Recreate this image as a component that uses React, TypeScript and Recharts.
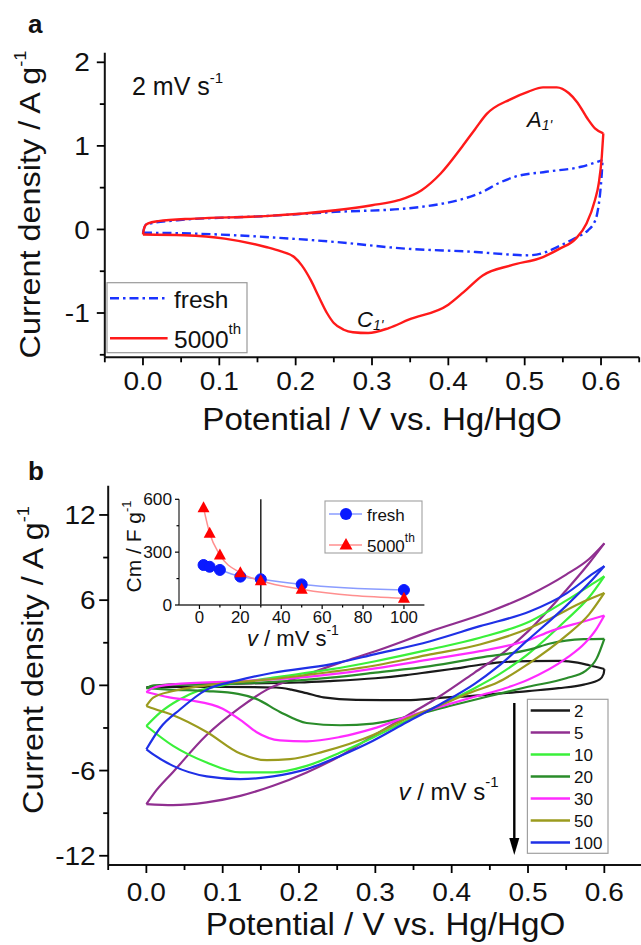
import React from 'react';
import { LineChart, Line, XAxis, YAxis, ReferenceLine } from 'recharts';

const FONT = '"Liberation Sans", Arial, Helvetica, sans-serif';

// ---------- Panel a : 2 mV/s, fresh vs 5000th (potential V, current A/g) ----------
const freshAnodic: [number, number][] = [
  [0.0, -0.04], [0.004, 0.06], [0.045, 0.11], [0.16, 0.16], [0.252, 0.21], [0.344, 0.25], [0.38, 0.29],
  [0.413, 0.35], [0.445, 0.45], [0.465, 0.55], [0.487, 0.63], [0.528, 0.69], [0.574, 0.75], [0.602, 0.83],
];
const freshCathodic: [number, number][] = [
  [0.0, -0.04], [0.004, -0.04], [0.068, -0.05], [0.16, -0.09], [0.252, -0.15], [0.344, -0.23], [0.436, -0.27],
  [0.48, -0.3], [0.505, -0.31], [0.528, -0.27], [0.545, -0.2], [0.565, -0.11], [0.583, -0.01], [0.589, 0.05],
  [0.595, 0.19], [0.599, 0.45], [0.601, 0.67], [0.602, 0.83],
];
const cycledAnodic: [number, number][] = [
  [0.0, -0.06], [0.002, 0.03], [0.006, 0.07], [0.02, 0.1], [0.068, 0.13], [0.16, 0.16], [0.252, 0.23],
  [0.3, 0.29], [0.335, 0.35], [0.365, 0.47], [0.39, 0.67], [0.418, 0.99], [0.435, 1.2], [0.45, 1.38],
  [0.482, 1.56], [0.505, 1.65], [0.524, 1.7], [0.542, 1.7], [0.558, 1.63], [0.569, 1.52], [0.582, 1.33],
  [0.592, 1.21], [0.603, 1.15],
];
const cycledCathodic: [number, number][] = [
  [0.0, -0.06], [0.054, -0.07], [0.107, -0.11], [0.161, -0.21], [0.18, -0.26], [0.198, -0.33], [0.208, -0.43],
  [0.22, -0.61], [0.23, -0.8], [0.241, -1.0], [0.25, -1.12], [0.263, -1.2], [0.275, -1.23], [0.295, -1.24],
  [0.322, -1.18], [0.348, -1.08], [0.4, -0.9], [0.42, -0.75], [0.445, -0.55], [0.482, -0.43], [0.524, -0.33],
  [0.546, -0.23], [0.567, -0.11], [0.581, 0.07], [0.592, 0.35], [0.597, 0.55], [0.601, 0.87], [0.603, 1.15],
];

// ---------- Panel b : 5000th cycle at different scan rates ----------
const rateLabels = ['2', '5', '10', '20', '30', '50', '100'];
const rateColors = ['#1a1a1a', '#902f90', '#3af03a', '#2a8c2a', '#ff2bff', '#9b9b1e', '#1f30e6'];

const s2Up: [number, number][] = [
  [0, -0.15], [0.01, -0.05], [0.03, 0.05], [0.1, 0.12], [0.2, 0.2], [0.241, 0.3], [0.3, 0.5], [0.34, 0.72],
  [0.372, 0.95], [0.4, 1.15], [0.437, 1.45], [0.463, 1.62], [0.5, 1.7], [0.542, 1.72], [0.565, 1.6],
  [0.58, 1.42], [0.6, 1.15],
];
const s2Down: [number, number][] = [
  [0, -0.15], [0.03, -0.1], [0.1, -0.1], [0.17, -0.15], [0.19, -0.3], [0.21, -0.55], [0.232, -0.84],
  [0.275, -1.02], [0.341, -1.04], [0.385, -0.88], [0.437, -0.7], [0.5, -0.4], [0.54, -0.2], [0.573, 0.05],
  [0.594, 0.42], [0.599, 0.8], [0.6, 1.15],
];
const s5Up: [number, number][] = [
  [0, -8.36], [0.01, -7.6], [0.035, -6.1], [0.079, -3.5], [0.123, -1.55], [0.158, -0.3], [0.21, 0.75],
  [0.254, 1.6], [0.3, 2.4], [0.372, 3.8], [0.45, 5.2], [0.503, 6.4], [0.55, 7.8], [0.58, 8.9], [0.6, 10.0],
];
const s5Down: [number, number][] = [
  [0, -8.36], [0.035, -8.43], [0.079, -8.24], [0.123, -7.78], [0.166, -7.07], [0.21, -6.13], [0.254, -4.97],
  [0.297, -3.56], [0.341, -2.16], [0.385, -0.75], [0.43, 0.9], [0.47, 2.4], [0.5, 3.8], [0.55, 6.7],
  [0.58, 8.6], [0.6, 10.0],
];
const s10Up: [number, number][] = [
  [0, -2.86], [0.018, -1.92], [0.044, -0.98], [0.07, -0.35], [0.1, 0.0], [0.166, 0.54], [0.241, 1.12],
  [0.3, 1.7], [0.372, 2.53], [0.437, 3.35], [0.503, 4.52], [0.551, 6.0], [0.586, 7.2], [0.6, 7.68],
];
const s10Down: [number, number][] = [
  [0, -2.86], [0.035, -4.26], [0.079, -5.43], [0.123, -6.13], [0.166, -6.13], [0.21, -5.67], [0.254, -4.73],
  [0.297, -3.67], [0.341, -2.5], [0.385, -1.4], [0.43, -0.2], [0.46, 0.7], [0.5, 2.2], [0.55, 4.6],
  [0.58, 6.2], [0.6, 7.68],
];
const s20Up: [number, number][] = [
  [0, -0.2], [0.01, 0.0], [0.05, 0.05], [0.1, 0.1], [0.15, 0.2], [0.2, 0.35], [0.241, 0.54], [0.3, 0.9],
  [0.372, 1.36], [0.437, 1.95], [0.503, 2.53], [0.529, 2.95], [0.573, 3.25], [0.6, 3.28],
];
const s20Down: [number, number][] = [
  [0, -0.2], [0.03, -0.3], [0.079, -0.4], [0.12, -0.6], [0.144, -0.95], [0.175, -1.87], [0.21, -2.65],
  [0.254, -2.81], [0.297, -2.69], [0.341, -2.22], [0.394, -1.5], [0.45, -0.75], [0.5, -0.1], [0.55, 0.5],
  [0.575, 1.0], [0.59, 1.9], [0.6, 3.28],
];
const s30Up: [number, number][] = [
  [0, -0.47], [0.01, -0.15], [0.035, 0.07], [0.123, 0.3], [0.2, 0.55], [0.241, 0.77], [0.3, 1.2],
  [0.372, 1.83], [0.437, 2.41], [0.503, 3.23], [0.529, 3.8], [0.573, 4.5], [0.6, 4.92],
];
const s30Down: [number, number][] = [
  [0, -0.47], [0.03, -0.85], [0.057, -1.05], [0.1, -1.64], [0.125, -2.5], [0.144, -3.28], [0.175, -3.87],
  [0.21, -3.94], [0.254, -3.63], [0.297, -3.05], [0.341, -2.22], [0.385, -1.5], [0.43, -0.8], [0.47, -0.2],
  [0.5, 0.4], [0.55, 1.9], [0.575, 3.0], [0.59, 4.0], [0.6, 4.92],
];
const s50Up: [number, number][] = [
  [0, -1.45], [0.009, -0.86], [0.035, -0.4], [0.079, 0.0], [0.166, 0.45], [0.241, 0.94], [0.3, 1.4],
  [0.372, 2.18], [0.437, 2.88], [0.503, 4.05], [0.529, 4.7], [0.573, 5.9], [0.6, 6.51],
];
const s50Down: [number, number][] = [
  [0, -1.45], [0.01, -1.65], [0.035, -2.1], [0.079, -3.28], [0.123, -4.8], [0.158, -5.27], [0.188, -5.2],
  [0.232, -4.67], [0.297, -3.5], [0.341, -2.34], [0.385, -1.4], [0.43, -0.4], [0.46, 0.2], [0.5, 1.5],
  [0.55, 3.5], [0.58, 5.0], [0.6, 6.51],
];
const s100Up: [number, number][] = [
  [0, -4.5], [0.018, -3.0], [0.044, -1.7], [0.079, -0.3], [0.12, 0.35], [0.166, 0.89], [0.241, 1.48],
  [0.3, 2.2], [0.372, 3.11], [0.437, 4.17], [0.503, 5.22], [0.551, 6.5], [0.586, 7.9], [0.6, 8.4],
];
const s100Down: [number, number][] = [
  [0, -4.5], [0.01, -4.9], [0.035, -5.67], [0.079, -6.41], [0.123, -6.6], [0.166, -6.41], [0.21, -5.9],
  [0.254, -4.97], [0.297, -3.9], [0.341, -2.6], [0.385, -1.33], [0.43, 0.1], [0.46, 1.3], [0.5, 3.2],
  [0.55, 5.6], [0.58, 7.2], [0.6, 8.4],
];
const rateBranches: [number, number][][][] = [
  [s2Up, s2Down], [s5Up, s5Down], [s10Up, s10Down], [s20Up, s20Down],
  [s30Up, s30Down], [s50Up, s50Down], [s100Up, s100Down],
];

// ---------- Inset: specific capacitance vs scan rate ----------
const scanRates = [2, 5, 10, 20, 30, 50, 100];
const capFresh = [227, 217, 199, 161, 146, 117, 85];
const capCycled = [552, 407, 284, 183, 138, 89, 38];

// ---------- Axis ticks ----------
const potTicks = [-0.05, 0, 0.05, 0.1, 0.15, 0.2, 0.25, 0.3, 0.35, 0.4, 0.45, 0.5, 0.55, 0.6, 0.65];
const potMajors = [0, 0.1, 0.2, 0.3, 0.4, 0.5, 0.6];
const potLabels = ['0.0', '0.1', '0.2', '0.3', '0.4', '0.5', '0.6'];
const aYTicks = [-1.5, -1, -0.5, 0, 0.5, 1, 1.5, 2];
const aYMajors = [-1, 0, 1, 2];
const aYLabels = ['-1', '0', '1', '2'];
const bYTicks = [-12, -9, -6, -3, 0, 3, 6, 9, 12];
const bYMajors = [-12, -6, 0, 6, 12];
const bYLabels = ['-12', '-6', '0', '6', '12'];
const inXTicks = [0, 10, 20, 30, 40, 50, 60, 70, 80, 90, 100];
const inXMajors = [0, 20, 40, 60, 80, 100];
const inXLabels = ['0', '20', '40', '60', '80', '100'];
const inYTicks = [0, 150, 300, 450, 600];
const inYMajors = [0, 300, 600];
const inYLabels = ['0', '300', '600'];

const toPts = (arr: [number, number][]) => arr.map(([x, y]) => ({ x, y }));

type TickOpts = {
  majors: number[]; labels: string[]; majorLen: number; minorLen: number;
  labelOffset: number; fontSize: number; stretch: number; dir: number; sw: number;
};

function xTick(o: TickOpts) {
  return (p: any) => {
    const v = p.payload.value;
    const mi = o.majors.findIndex((m) => Math.abs(m - v) < 1e-9);
    const len = mi >= 0 ? o.majorLen : o.minorLen;
    return (
      <g key={`xt-${v}`}>
        <line x1={p.x} x2={p.x} y1={p.y} y2={p.y + o.dir * len} stroke="#000" strokeWidth={o.sw} />
        {mi >= 0 && o.labels.length > 0 && (
          <text
            transform={`translate(${p.x},${p.y + o.labelOffset}) scale(${o.stretch},1)`}
            textAnchor="middle" fontSize={o.fontSize} fontFamily={FONT} fill="#111"
          >
            {o.labels[mi]}
          </text>
        )}
      </g>
    );
  };
}

function yTick(o: TickOpts) {
  return (p: any) => {
    const v = p.payload.value;
    const mi = o.majors.findIndex((m) => Math.abs(m - v) < 1e-9);
    const len = mi >= 0 ? o.majorLen : o.minorLen;
    return (
      <g key={`yt-${v}`}>
        <line x1={p.x} x2={p.x - o.dir * len} y1={p.y} y2={p.y} stroke="#000" strokeWidth={o.sw} />
        {mi >= 0 && o.labels.length > 0 && (
          <text
            transform={`translate(${p.x - o.labelOffset},${p.y + o.fontSize * 0.36}) scale(${o.stretch},1)`}
            textAnchor="end" fontSize={o.fontSize} fontFamily={FONT} fill="#111"
          >
            {o.labels[mi]}
          </text>
        )}
      </g>
    );
  };
}

const frameAxis = { stroke: '#111', strokeWidth: 2 };

const Triangle = (p: any) => {
  const { cx, cy, index } = p;
  if (cx == null || cy == null) return <g key={`tri-${index}`} />;
  return <polygon key={`tri-${index}`} points={`${cx},${cy - 6.5} ${cx - 6},${cy + 4.5} ${cx + 6},${cy + 4.5}`} fill="#ff0000" />;
};

export default function App() {
  return (
    <div style={{ position: 'absolute', left: 0, top: 0, width: 641, height: 945, overflow: 'hidden', background: '#fff' }}>
      {/* Panel a */}
      <div style={{ position: 'absolute', left: 0, top: 0 }}>
        <LineChart width={641} height={470} margin={{ top: 52.7, right: 1.8, bottom: 0, left: 0 }}>
          <XAxis
            xAxisId="m" type="number" dataKey="x" domain={[-0.05, 0.65]} allowDataOverflow ticks={potTicks}
            interval={0} tickSize={0} tickMargin={0} tickLine={false} axisLine={frameAxis} height={112.7}
            tick={xTick({ majors: potMajors, labels: potLabels, majorLen: 8, minorLen: 5, labelOffset: 32.5, fontSize: 25.5, stretch: 1.1, dir: 1, sw: 1.8 })}
          />
          <XAxis xAxisId="t" orientation="top" type="number" dataKey="x" domain={[-0.05, 0.65]} allowDataOverflow height={0} tick={false} tickLine={false} axisLine={frameAxis} />
          <YAxis
            yAxisId="m" type="number" domain={[-1.53, 2.115]} allowDataOverflow ticks={aYTicks} interval={0}
            tickSize={0} tickMargin={0} tickLine={false} axisLine={frameAxis} width={104.8}
            tick={yTick({ majors: aYMajors, labels: aYLabels, majorLen: 8, minorLen: 5, labelOffset: 15, fontSize: 25.5, stretch: 1.1, dir: 1, sw: 1.8 })}
          />
          <YAxis yAxisId="r" orientation="right" type="number" domain={[-1.53, 2.115]} allowDataOverflow width={0} tick={false} tickLine={false} axisLine={frameAxis} />
          <Line xAxisId="m" yAxisId="m" data={toPts(freshAnodic)} dataKey="y" type="monotone" stroke="#1a33ff" strokeWidth={2.4} strokeDasharray="9 4 2.5 4" dot={false} activeDot={false} isAnimationActive={false} />
          <Line xAxisId="m" yAxisId="m" data={toPts(freshCathodic)} dataKey="y" type="monotone" stroke="#1a33ff" strokeWidth={2.4} strokeDasharray="9 4 2.5 4" dot={false} activeDot={false} isAnimationActive={false} />
          <Line xAxisId="m" yAxisId="m" data={toPts(cycledAnodic)} dataKey="y" type="monotone" stroke="#ff1a1a" strokeWidth={2.4} dot={false} activeDot={false} isAnimationActive={false} />
          <Line xAxisId="m" yAxisId="m" data={toPts(cycledCathodic)} dataKey="y" type="monotone" stroke="#ff1a1a" strokeWidth={2.4} dot={false} activeDot={false} isAnimationActive={false} />
        </LineChart>
      </div>

      {/* Panel b */}
      <div style={{ position: 'absolute', left: 0, top: 470 }}>
        <LineChart width={645} height={475} margin={{ top: 15.7, right: 2.5, bottom: 0, left: 0 }}>
          <XAxis
            xAxisId="m" type="number" dataKey="x" domain={[-0.05, 0.65]} allowDataOverflow ticks={potTicks}
            interval={0} tickSize={0} tickMargin={0} tickLine={false} axisLine={frameAxis} height={80}
            tick={xTick({ majors: potMajors, labels: potLabels, majorLen: 8, minorLen: 5, labelOffset: 35.5, fontSize: 25.5, stretch: 1.1, dir: 1, sw: 1.8 })}
          />
          <XAxis xAxisId="t" orientation="top" type="number" dataKey="x" domain={[-0.05, 0.65]} allowDataOverflow height={0} tick={false} tickLine={false} axisLine={frameAxis} />
          <YAxis
            yAxisId="m" type="number" domain={[-12.65, 14.06]} allowDataOverflow ticks={bYTicks} interval={0}
            tickSize={0} tickMargin={0} tickLine={false} axisLine={frameAxis} width={108.2}
            tick={yTick({ majors: bYMajors, labels: bYLabels, majorLen: 9, minorLen: 5, labelOffset: 12.5, fontSize: 25.5, stretch: 1.1, dir: 1, sw: 1.8 })}
          />
          {rateBranches.map((br, i) =>
            br.map((arr, j) => (
              <Line
                key={`r${i}-${j}`} xAxisId="m" yAxisId="m" data={toPts(arr)} dataKey="y" type="monotone"
                stroke={rateColors[i]} strokeWidth={2.2} dot={false} activeDot={false} isAnimationActive={false}
              />
            ))
          )}
        </LineChart>
      </div>

      {/* Inset */}
      <div style={{ position: 'absolute', left: 100, top: 480 }}>
        <LineChart width={330} height={160} margin={{ top: 19.3, right: 5.6, bottom: 0, left: 0 }}>
          <XAxis
            xAxisId="m" type="number" dataKey="x" domain={[-10, 110]} allowDataOverflow ticks={inXTicks}
            interval={0} tickSize={0} tickMargin={0} tickLine={false} axisLine={{ stroke: '#333', strokeWidth: 1.3 }} height={35}
            tick={xTick({ majors: inXMajors, labels: inXLabels, majorLen: 4, minorLen: 2.5, labelOffset: 17.5, fontSize: 16, stretch: 1.05, dir: 1, sw: 1.2 })}
          />
          <XAxis
            xAxisId="t" orientation="top" type="number" dataKey="x" domain={[-10, 110]} allowDataOverflow ticks={inXTicks}
            interval={0} tickSize={0} tickMargin={0} tickLine={false} axisLine={{ stroke: '#333', strokeWidth: 1.3 }} height={0}
            tick={xTick({ majors: inXMajors, labels: [], majorLen: 4, minorLen: 2.5, labelOffset: 0, fontSize: 16, stretch: 1, dir: 1, sw: 1.2 })}
          />
          <YAxis
            yAxisId="m" type="number" domain={[0, 600]} allowDataOverflow ticks={inYTicks} interval={0}
            tickSize={0} tickMargin={0} tickLine={false} axisLine={{ stroke: '#333', strokeWidth: 1.3 }} width={79}
            tick={yTick({ majors: inYMajors, labels: inYLabels, majorLen: 4, minorLen: 2.5, labelOffset: 7, fontSize: 16, stretch: 1.08, dir: 1, sw: 1.2 })}
          />
          <YAxis yAxisId="r" orientation="right" type="number" domain={[0, 600]} allowDataOverflow width={0} tick={false} tickLine={false} axisLine={{ stroke: '#333', strokeWidth: 1.3 }} />
          <ReferenceLine xAxisId="m" yAxisId="m" x={30} stroke="#222" strokeWidth={1.5} />
          <Line
            xAxisId="m" yAxisId="m" data={scanRates.map((x, i) => ({ x, y: capFresh[i] }))} dataKey="y" type="monotone"
            stroke="#8a9cff" strokeWidth={1.5} dot={{ r: 5.5, fill: '#0a1aff', stroke: '#0a1aff', strokeWidth: 1 }} activeDot={false} isAnimationActive={false}
          />
          <Line
            xAxisId="m" yAxisId="m" data={scanRates.map((x, i) => ({ x, y: capCycled[i] }))} dataKey="y" type="monotone"
            stroke="#ff8f8f" strokeWidth={1.5} dot={Triangle} activeDot={false} isAnimationActive={false}
          />
        </LineChart>
      </div>

      {/* Annotations, titles and legends */}
      <svg width={641} height={945} style={{ position: 'absolute', left: 0, top: 0, pointerEvents: 'none' }} fontFamily={FONT} fill="#111">
        <text x={28} y={33} fontSize={26} fontWeight="bold">a</text>
        <text x={28} y={479.5} fontSize={26} fontWeight="bold">b</text>

        {/* axis titles */}
        <text transform="translate(39.5,204.5) rotate(-90) scale(1.08,1)" textAnchor="middle" fontSize={30}>
          Current density / A g<tspan dy={-14} fontSize={17}>-1</tspan>
        </text>
        <text transform="translate(43,660) rotate(-90) scale(1.08,1)" textAnchor="middle" fontSize={30}>
          Current density / A g<tspan dy={-14} fontSize={17}>-1</tspan>
        </text>
        <text transform="translate(382,430) scale(1.07,1)" textAnchor="middle" fontSize={31}>Potential / V vs. Hg/HgO</text>
        <text transform="translate(385.5,934.5) scale(1.07,1)" textAnchor="middle" fontSize={31}>Potential / V vs. Hg/HgO</text>

        {/* panel a annotations */}
        <text x={132} y={95} fontSize={25}>2 mV s<tspan dy={-12} fontSize={15}>-1</tspan></text>
        <text x={527} y={127} fontSize={22} fontStyle="italic">A<tspan fontSize={14} dy={3}>1'</tspan></text>
        <text x={357} y={327} fontSize={22} fontStyle="italic">C<tspan fontSize={14} dy={3}>1'</tspan></text>

        {/* panel a legend */}
        <rect x={107} y={282.7} width={140} height={70} fill="#fff" stroke="#9a9a9a" strokeWidth={1.2} />
        <line x1={110} x2={167.6} y1={298.3} y2={298.3} stroke="#1a33ff" strokeWidth={2.4} strokeDasharray="9 4 2.5 4" />
        <text x={174} y={308.3} fontSize={24.5}>fresh</text>
        <line x1={110} x2={167.6} y1={338.3} y2={338.3} stroke="#ff1a1a" strokeWidth={2.4} />
        <text x={174} y={348.3} fontSize={24.5}>5000<tspan dy={-14} fontSize={15}>th</tspan></text>

        {/* panel b legend */}
        <rect x={527.4} y={699.3} width={80.6} height={154} fill="#fff" stroke="#a0a0a0" strokeWidth={1.2} />
        {rateLabels.map((lab, i) => (
          <g key={`lg-${lab}`}>
            <line x1={530.7} x2={570} y1={710.5 + i * 22} y2={710.5 + i * 22} stroke={rateColors[i]} strokeWidth={2.4} />
            <text x={574} y={716.5 + i * 22} fontSize={17}>{lab}</text>
          </g>
        ))}

        {/* scan-rate arrow */}
        <line x1={514.3} x2={514.3} y1={703} y2={842} stroke="#000" strokeWidth={2.4} />
        <polygon points="509.3,838 519.3,838 514.3,855" fill="#000" />
        <text x={398.6} y={800} fontSize={24}>
          <tspan fontStyle="italic">v</tspan> / mV s<tspan dy={-13} fontSize={15}>-1</tspan>
        </text>

        {/* inset titles */}
        <text x={247} y={646} fontSize={22}>
          <tspan fontStyle="italic">v</tspan> / mV s<tspan dy={-11} fontSize={14}>-1</tspan>
        </text>
        <text transform="translate(141,546.5) rotate(-90)" textAnchor="middle" fontSize={21}>
          Cm / F g<tspan dy={-10} fontSize={13}>-1</tspan>
        </text>

        {/* inset legend */}
        <rect x={325} y={501} width={97} height={52} fill="#fff" stroke="#a0a0a0" strokeWidth={1.1} />
        <line x1={329} x2={362} y1={514} y2={514} stroke="#8a9cff" strokeWidth={1.5} />
        <circle cx={346} cy={514} r={6} fill="#0a1aff" />
        <text x={367} y={520.5} fontSize={17}>fresh</text>
        <line x1={329} x2={362} y1={545} y2={545} stroke="#ff8f8f" strokeWidth={1.5} />
        <polygon points="346,538 339.5,549.5 352.5,549.5" fill="#ff0000" />
        <text x={367} y={552} fontSize={17}>5000<tspan dy={-10} fontSize={12}>th</tspan></text>
      </svg>
    </div>
  );
}
